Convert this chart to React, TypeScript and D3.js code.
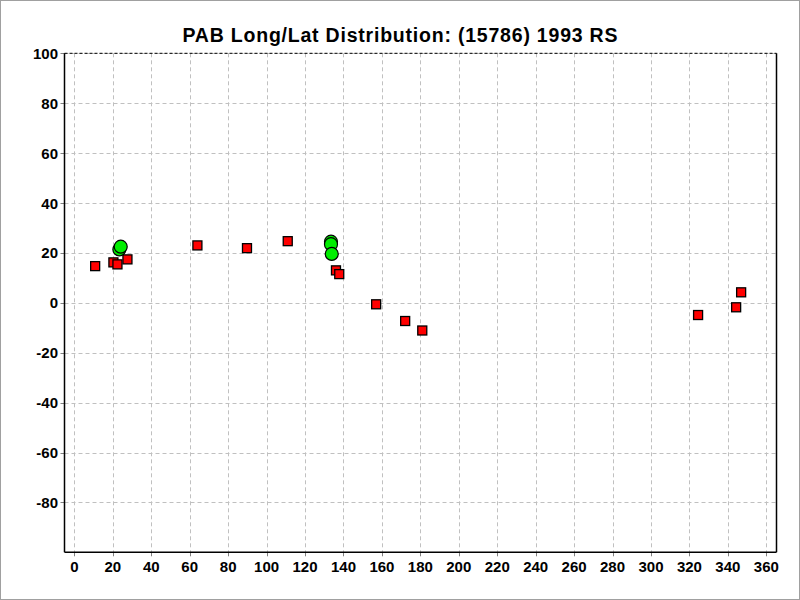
import React from "react";
import * as d3 from "d3";

const title = "PAB Long/Lat Distribution: (15786) 1993 RS";
const xTicks = [0, 20, 40, 60, 80, 100, 120, 140, 160, 180, 200, 220, 240, 260, 280, 300, 320, 340, 360];
const yTicks = [100, 80, 60, 40, 20, 0, -20, -40, -60, -80];

const squareLong = [10.8, 20.3, 22.4, 27.6, 64.0, 89.8, 111.0, 136.1, 137.8, 157.0, 172.1, 181.0, 324.5, 344.3, 346.9];
const squareLat = [14.7, 16.2, 15.4, 17.4, 23.0, 21.9, 24.7, 13.0, 11.5, -0.6, -7.3, -11.1, -4.9, -1.8, 4.2];

const circleLong = [23.4, 24.1, 133.5, 133.5, 133.9];
const circleLat = [21.4, 22.5, 24.5, 23.5, 19.6];

const W = 800;
const H = 600;
const L = 64.5;
const R = 776.5;
const T = 53.3;
const B = 552.3;

export default function App() {
  const x = d3.scaleLinear().domain([-5.15, 365.3]).range([L, R]);
  const y = d3.scaleLinear().domain([-100, 100]).range([B, T]);
  const font = "'Liberation Sans', Arial, sans-serif";
  const grid = "#c0c0c0";
  const sq = 9;
  return (
    <svg width={W} height={H} style={{ position: "absolute", left: 0, top: 0, background: "#fff" }}>
      <rect x={0.5} y={0.5} width={W - 1} height={H - 1} fill="#fff" stroke="#a0a0a0" />
      <text x={400} y={41.7} textAnchor="middle" fontFamily={font} fontWeight="bold" fontSize={19.5} textLength={435} lengthAdjust="spacing">{title}</text>
      {xTicks.map((t) => (
        <line key={"gx" + t} x1={Math.round(x(t)) + 0.5} x2={Math.round(x(t)) + 0.5} y1={T} y2={B} stroke={grid} strokeDasharray="4,3" />
      ))}
      {yTicks.map((t) => (
        <line key={"gy" + t} x1={L} x2={R} y1={Math.round(y(t)) + 0.5} y2={Math.round(y(t)) + 0.5} stroke={grid} strokeDasharray="4,3" />
      ))}
      {xTicks.map((t) => (
        <g key={"tx" + t}>
          <line x1={Math.round(x(t)) + 0.5} x2={Math.round(x(t)) + 0.5} y1={B} y2={B + 4} stroke="#808080" />
          <text x={x(t)} y={572} textAnchor="middle" fontFamily={font} fontWeight="bold" fontSize={15}>{t}</text>
        </g>
      ))}
      {yTicks.map((t) => (
        <g key={"ty" + t}>
          <line x1={L - 4} x2={L} y1={Math.round(y(t)) + 0.5} y2={Math.round(y(t)) + 0.5} stroke="#808080" />
          <text x={58} y={y(t) + 5.5} textAnchor="end" fontFamily={font} fontWeight="bold" fontSize={15}>{t}</text>
        </g>
      ))}
      <line x1={L} x2={R} y1={T} y2={T} stroke="#000" strokeDasharray="3,2" />
      <line x1={L} x2={L} y1={T} y2={B} stroke="#000" strokeWidth={1.5} />
      <line x1={L} x2={R} y1={B} y2={B} stroke="#000" strokeWidth={1.5} />
      <line x1={R} x2={R} y1={T} y2={B} stroke="#000" strokeWidth={1.5} />
      {squareLong.map((v, i) => (
        <rect key={"s" + i} x={x(v) - sq / 2} y={y(squareLat[i]) - sq / 2} width={sq} height={sq} fill="#ff0000" stroke="#000" strokeWidth={1.3} />
      ))}
      {circleLong.map((v, i) => (
        <circle key={"c" + i} cx={x(v)} cy={y(circleLat[i])} r={6.5} fill="#00ee00" stroke="#000" strokeWidth={1.2} />
      ))}
    </svg>
  );
}
